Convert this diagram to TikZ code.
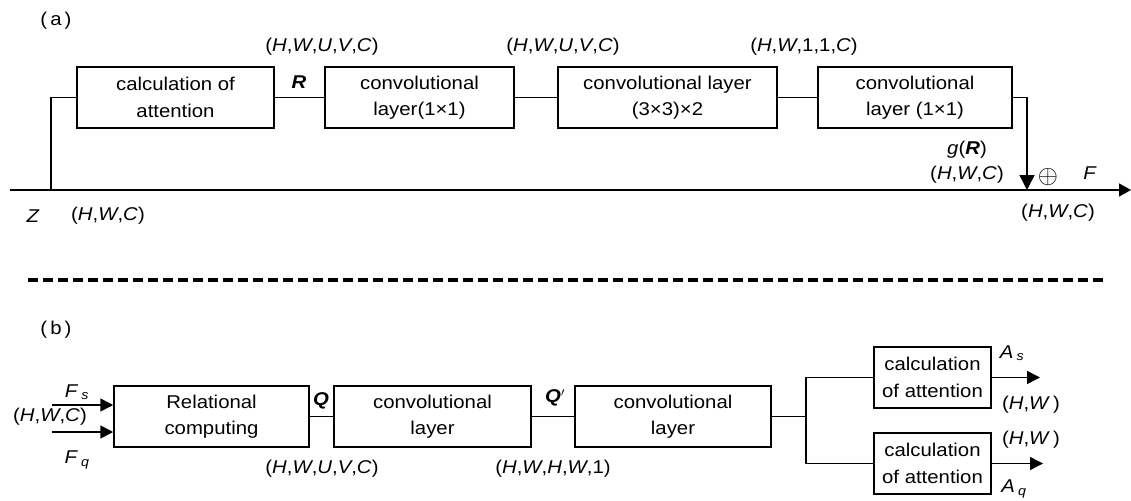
\documentclass[tikz,border=0pt]{standalone}
\usepackage{fontspec}
\setmainfont{Liberation Sans}[FakeStretch=1.1]
\usetikzlibrary{arrows.meta}
\newcommand\vi[1]{\textit{#1}}
\newcommand\vb[1]{\textbf{\textit{#1}}}
\begin{document}
\begin{tikzpicture}[x=1pt,y=-1pt,
  font=\fontsize{18.5}{26.5}\selectfont,
  box/.style={draw, line width=1.5pt, align=center, inner sep=0pt, minimum height=61pt},
  wire/.style={line width=1.5pt},
  arr/.style={line width=1.5pt, -{Triangle[length=13pt,width=13pt]}},
  lbl/.style={inner sep=0pt, align=center}]
\useasboundingbox (0,0) rectangle (1131,500);
% ---------- (a) ----------
\node[lbl] (la) at (56,21) {(\,a\,)};
\node[box, minimum width=197pt] (a1) at (175.5,97.5) {calculation of\\attention};
\node[box, minimum width=189pt] (a2) at (419.5,97.5) {convolutional\\layer(1×1)};
\node[box, minimum width=219pt] (a3) at (667.5,97.5) {convolutional layer\\(3×3)×2};
\node[box, minimum width=194pt] (a4) at (915,97.5) {convolutional\\layer (1×1)};
\draw[wire] (a1.east) -- (a2.west);
\draw[wire] (a2.east) -- (a3.west);
\draw[wire] (a3.east) -- (a4.west);
\coordinate (zs) at (10,190);
\coordinate (zj) at (51,190);
\coordinate (fj) at (1027,190);
\coordinate (fe) at (1131,190);
\draw[wire] (a1.west) -| (zj);
\draw[line width=1.5pt, -{Triangle[length=12pt,width=13pt]}] (zs) -- (fe);
\draw[line width=1.5pt, -{Triangle[length=15pt,width=15pt]}] (a4.east) -| (fj);
\node[lbl] (s1) at (322,47) {(\vi{H},\vi{W},\vi{U},\vi{V},\vi{C})};
\node[lbl] (s2) at (563,47) {(\vi{H},\vi{W},\vi{U},\vi{V},\vi{C})};
\node[lbl] (s3) at (804,47) {(\vi{H},\vi{W},1,1,\vi{C})};
\node[lbl] (lr) at (299,82) {\vb{R}};
\node[lbl] (lg) at (967,150) {\vi{g}(\vb{R})};
\node[lbl] (lg2) at (967,175) {(\vi{H},\vi{W},\vi{C})};
\node[lbl] (lp) at (1048,177) {\scalebox{1.5}{$\oplus$}};
\node[lbl] (lf) at (1090,173) {\vi{F}};
\node[lbl] (lf2) at (1058,213) {(\vi{H},\vi{W},\vi{C})};
\node[lbl] (lz) at (33,216) {\vi{Z}};
\node[lbl] (lz2) at (108,216) {(\vi{H},\vi{W},\vi{C})};
% ---------- separator ----------
\coordinate (d1) at (28,280);
\coordinate (d2) at (1105,280);
\draw[line width=3.5pt, dash pattern=on 10pt off 5pt] (d1) -- (d2);
% ---------- (b) ----------
\node[lbl] (lb) at (56,330) {(\,b\,)};
\node[box, minimum width=195pt] (b1) at (211.5,416.5) {Relational\\computing};
\node[box, minimum width=197pt] (b2) at (432.5,416.5) {convolutional\\layer};
\node[box, minimum width=196pt] (b3) at (673,416.5) {convolutional\\layer};
\draw[wire] (b1.east) -- (b2.west);
\draw[wire] (b2.east) -- (b3.west);
\coordinate (fs) at (52,405);
\coordinate (fq) at (52,432);
\draw[arr] (fs) -- (b1.west |- fs);
\draw[arr] (fq) -- (b1.west |- fq);
\node[lbl] (lfs) at (77,392) {\vi{F}\,\textsubscript{\vi{s}}};
\node[lbl] (lhw) at (50,417) {(\vi{H},\vi{W},\vi{C})};
\node[lbl] (lfq) at (77,460) {\vi{F}\,\textsubscript{\vi{q}}};
\node[lbl] (lq) at (321,401) {\vb{Q}};
\node[lbl] (lq2) at (555,398) {\vb{Q}$^{\prime}$};
\node[lbl] (sq) at (322,469) {(\vi{H},\vi{W},\vi{U},\vi{V},\vi{C})};
\node[lbl] (sq2) at (553,469) {(\vi{H},\vi{W},\vi{H},\vi{W},1)};
\node[box, minimum width=117pt] (c1) at (932.5,377.5) {calculation\\of attention};
\node[box, minimum width=117pt] (c2) at (932.5,463.5) {calculation\\of attention};
\coordinate (fork) at (806,416.5);
\draw[wire] (b3.east) -- (fork);
\draw[wire] (c1.west) -| (fork);
\draw[wire] (c2.west) -| (fork);
\coordinate (o1) at (1040,377.5);
\coordinate (o2) at (1043,463.5);
\draw[arr] (c1.east) -- (o1);
\draw[arr] (c2.east) -- (o2);
\node[lbl] (las) at (1012,353) {\vi{A}\,\textsubscript{\vi{s}}};
\node[lbl] (lhw1) at (1031,405) {(\vi{H},\vi{W}\,)};
\node[lbl] (lhw2) at (1031,440) {(\vi{H},\vi{W}\,)};
\node[lbl] (laq) at (1014,489) {\vi{A}\,\textsubscript{\vi{q}}};
\end{tikzpicture}
\end{document}
